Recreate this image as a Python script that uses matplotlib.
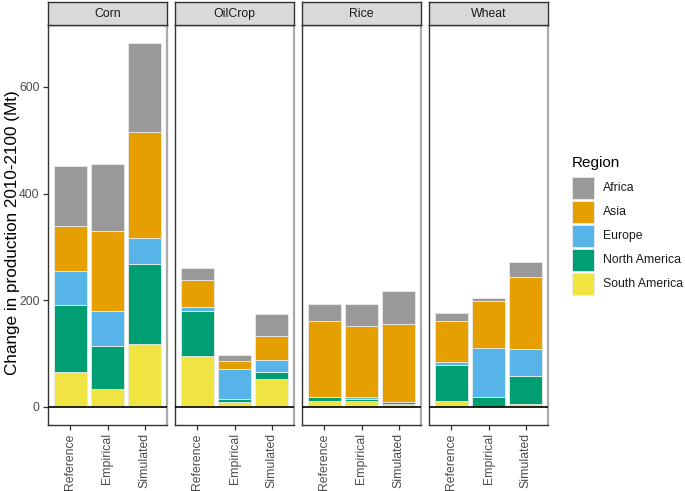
import matplotlib
matplotlib.use("Agg")
import matplotlib.pyplot as plt
import numpy as np

plt.rcParams['font.family'] = ['Liberation Sans', 'DejaVu Sans']

crops = ["Corn", "OilCrop", "Rice", "Wheat"]
scenarios = ["Reference", "Empirical", "Simulated"]
regions = ["Africa", "Asia", "Europe", "North America", "South America"]
colors = ["#999999", "#E69F00", "#56B4E9", "#009E73", "#F0E442"]

# change in production (Mt), per crop, order Reference / Empirical / Simulated
south_america = {"Corn": [64.5, 33, 118], "OilCrop": [94.5, 8.8, 52.6],
                 "Rice": [10.7, 10.7, 5.6], "Wheat": [10.7, 0.5, 6]}
north_america = {"Corn": [127, 82, 149], "OilCrop": [85.5, 6.2, 13.4],
                 "Rice": [7.3, 4.3, 3.8], "Wheat": [66.9, 17, 51]}
europe = {"Corn": [62.5, 65, 50], "OilCrop": [7, 56, 21.6],
          "Rice": [1, 2.5, 0.5], "Wheat": [6.9, 92.5, 52]}
asia = {"Corn": [86, 149, 197.5], "OilCrop": [51.5, 15, 44.4],
        "Rice": [142.5, 134, 145.1], "Wheat": [77, 88, 135]}
africa = {"Corn": [111, 127, 167.5], "OilCrop": [21.5, 12, 42],
          "Rice": [31.5, 40.5, 61.5], "Wheat": [14.5, 6, 28]}

# stacked bottom-up
stack = [("South America", south_america), ("North America", north_america),
         ("Europe", europe), ("Asia", asia), ("Africa", africa)]
col = dict(zip(regions, colors))

W, H = 685, 491
fig = plt.figure(figsize=(W / 100, H / 100), dpi=100)

panel_x = [48, 175, 302, 429]
panel_w = 119
top, bot = 25, 425
strip_top = 2
ymin, ymax = -34.1, 716.1
dark = "#333333"
grey_txt = "#4D4D4D"

for i, crop in enumerate(crops):
    x0 = panel_x[i]
    ax = fig.add_axes([x0 / W, 1 - bot / H, panel_w / W, (bot - top) / H])
    xs = np.arange(3)
    bottom = np.zeros(3)
    for name, d in stack:
        v = np.array(d[crop])
        ax.bar(xs, v, bottom=bottom, width=0.9, color=col[name],
               edgecolor="#EBEBEB", linewidth=0.6, zorder=2)
        bottom += v
    ax.axhline(0, color="black", linewidth=1.2, zorder=3)
    ax.set_xlim(-0.6, 2.6)
    ax.set_ylim(ymin, ymax)
    ax.set_xticks(xs)
    ax.set_xticklabels(scenarios, rotation=90, fontsize=8.8, color=grey_txt)
    ax.set_yticks([0, 200, 400, 600])
    ax.tick_params(axis="both", color=dark, width=0.9, length=3.5, pad=2.5)
    if i == 0:
        ax.set_yticklabels(["0", "200", "400", "600"], fontsize=8.8, color=grey_txt)
    else:
        ax.set_yticklabels([])
        ax.tick_params(axis="y", length=0)
    for s in ["left", "bottom", "top"]:
        ax.spines[s].set_color(dark)
        ax.spines[s].set_linewidth(1.0)
    ax.spines["right"].set_color("#ABABAB")
    ax.spines["right"].set_linewidth(1.6)
    ax.set_facecolor("white")

    # facet strip
    sax = fig.add_axes([x0 / W, 1 - top / H, panel_w / W, (top - strip_top) / H])
    sax.set_facecolor("#D9D9D9")
    sax.set_xticks([])
    sax.set_yticks([])
    for s in sax.spines.values():
        s.set_color(dark)
        s.set_linewidth(1.0)
    sax.text(0.5, 0.47, crop, ha="center", va="center", fontsize=8.8,
             color="#1A1A1A", transform=sax.transAxes)

fig.text(13 / W, 1 - 233 / H, "Change in production 2010-2100 (Mt)", rotation=90,
         fontsize=12.3, ha="center", va="center")

# legend
fig.text(572 / W, 1 - 163 / H, "Region", fontsize=11, ha="left", va="center")
key_y = [177, 201, 225, 249, 273]
for name, ky in zip(regions, key_y):
    fig.patches.append(plt.Rectangle((572 / W, 1 - (ky + 22) / H), 22 / W, 22 / H,
                                     transform=fig.transFigure, facecolor=col[name],
                                     edgecolor="#EBEBEB", linewidth=0.6))
    fig.text(603 / W, 1 - (ky + 11) / H, name, fontsize=8.8, ha="left", va="center",
             color="#1A1A1A")

fig.savefig("out.png", dpi=100)
